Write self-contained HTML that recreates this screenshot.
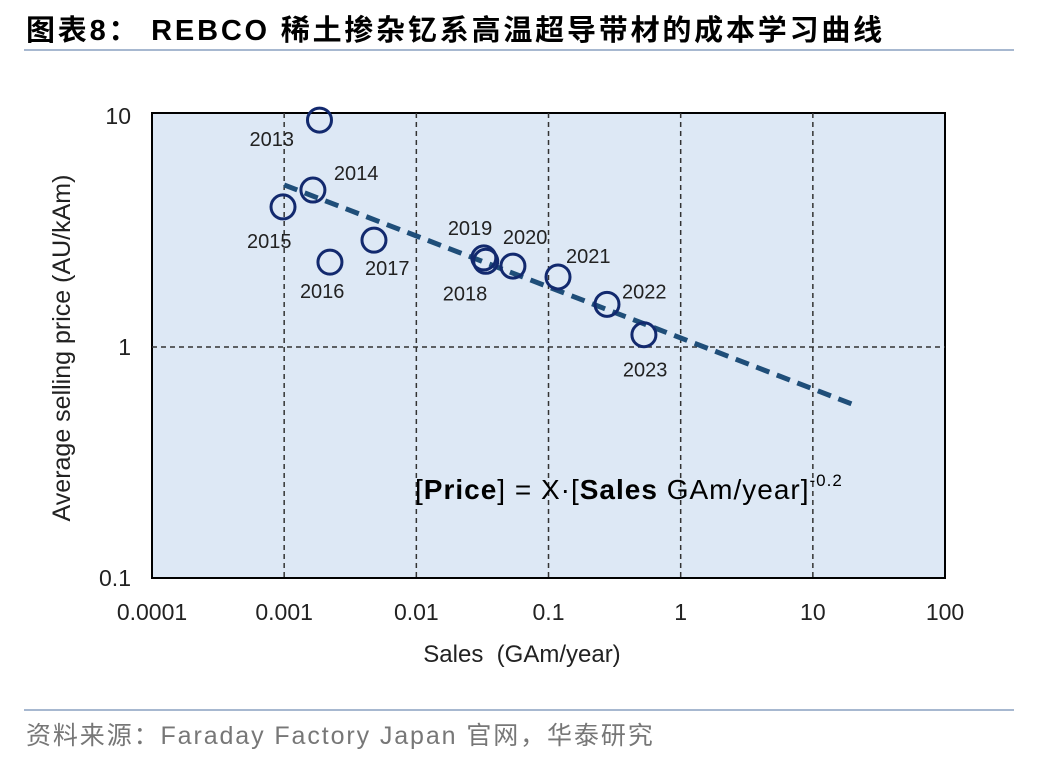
<!DOCTYPE html>
<html><head><meta charset="utf-8"><style>
body{margin:0;background:#fff;width:1048px;height:760px;overflow:hidden;font-family:"Liberation Sans","Noto Sans CJK SC",sans-serif;}
</style></head><body>
<svg width="1048" height="760" xmlns="http://www.w3.org/2000/svg" font-family="Liberation Sans, Noto Sans CJK SC, sans-serif">
<text x="26" y="40" font-size="29" font-weight="bold" letter-spacing="2.8" fill="#000">图表8： REBCO 稀土掺杂钇系高温超导带材的成本学习曲线</text>
<line x1="24" y1="50" x2="1014" y2="50" stroke="#8aa0c0" stroke-width="1.5"/>
<rect x="152" y="113" width="793" height="465" fill="#dde8f5" stroke="#000" stroke-width="2"/>
<g id="grid"></g>
<g id="marks"></g>
<text x="415" y="499" font-size="28" letter-spacing="1" fill="#000">[<tspan font-weight="bold">Price</tspan>] = X·[<tspan font-weight="bold">Sales</tspan> GAm/year]<tspan font-size="17" dy="-13">-0.2</tspan></text>
<text x="522" y="662" font-size="24" text-anchor="middle" fill="#222" xml:space="preserve">Sales  (GAm/year)</text>
<text transform="translate(70,348) rotate(-90)" font-size="25" text-anchor="middle" fill="#222">Average selling price (AU/kAm)</text>
<line x1="24" y1="710" x2="1014" y2="710" stroke="#8aa0c0" stroke-width="1.5"/>
<text x="26" y="744" font-size="25" letter-spacing="1.9" fill="#777">资料来源：Faraday Factory Japan 官网，华泰研究</text>
</svg>
<script>
const xTicks=[0.0001,0.001,0.01,0.1,1,10,100];
const xTickLabels=["0.0001","0.001","0.01","0.1","1","10","100"];
const yTicks=[0.1,1,10];
const yTickLabels=["0.1","1","10"];
const years=["2013","2014","2015","2016","2017","2018","2019","2020","2021","2022","2023"];
const sales=[0.00185,0.00165,0.00098,0.00222,0.00478,0.0335,0.0324,0.0538,0.118,0.277,0.527];
const prices=[9.6,4.78,4.04,2.33,2.9,2.35,2.43,2.24,2.01,1.53,1.13];
const labelDx=[-70,21,-36,-30,-9,-43,-36,-10,8,15,-21];
const labelDy=[26,-10,41,36,35,39,-23,-22,-14,-6,42];
const fitX=[0.001,21.5];
const fitY=[5.03,0.556];
const NS="http://www.w3.org/2000/svg";
const X=v=>152+(Math.log10(v)+4)*132.17;
const Y=v=>347-Math.log10(v)*231;
const grid=document.getElementById('grid'),marks=document.getElementById('marks');
function mk(p,tag,a){const e=document.createElementNS(NS,tag);for(const k in a)e.setAttribute(k,a[k]);p.appendChild(e);return e;}
xTicks.forEach((t,i)=>{
 if(i>0&&i<xTicks.length-1){const l=mk(grid,'line',{x1:X(t),x2:X(t),y1:113,y2:578,stroke:'#333','stroke-width':1.5,'stroke-dasharray':'5,4'});
 
 }
 const tx=mk(grid,'text',{x:X(t),y:620,'font-size':23,'text-anchor':'middle',fill:'#222'});tx.textContent=xTickLabels[i];
 
 
});
yTicks.forEach((t,i)=>{
 if(t===1){const l=mk(grid,'line',{x1:152,x2:945,y1:Y(t),y2:Y(t),stroke:'#333','stroke-width':1.5,'stroke-dasharray':'5,4'});
 
 }
 const tx=mk(grid,'text',{x:131,y:Y(t)+8,'font-size':23,'text-anchor':'end',fill:'#222'});tx.textContent=yTickLabels[i];
 
 
});
const fl=mk(marks,'line',{x1:X(fitX[0]),y1:Y(fitY[0]),x2:X(fitX[1]),y2:Y(fitY[1]),stroke:'#1f4e79','stroke-width':5,'stroke-dasharray':'14,8'});


years.forEach((yr,i)=>{
 const cx=X(sales[i]),cy=Y(prices[i]);
 const c=mk(marks,'circle',{cx:cx,cy:cy,r:12,fill:'none',stroke:'#12296e','stroke-width':3});
 
 
 const t=mk(marks,'text',{x:cx+labelDx[i],y:cy+labelDy[i],'font-size':20,fill:'#222'});t.textContent=yr;
 
 
});
</script>
</body></html>
